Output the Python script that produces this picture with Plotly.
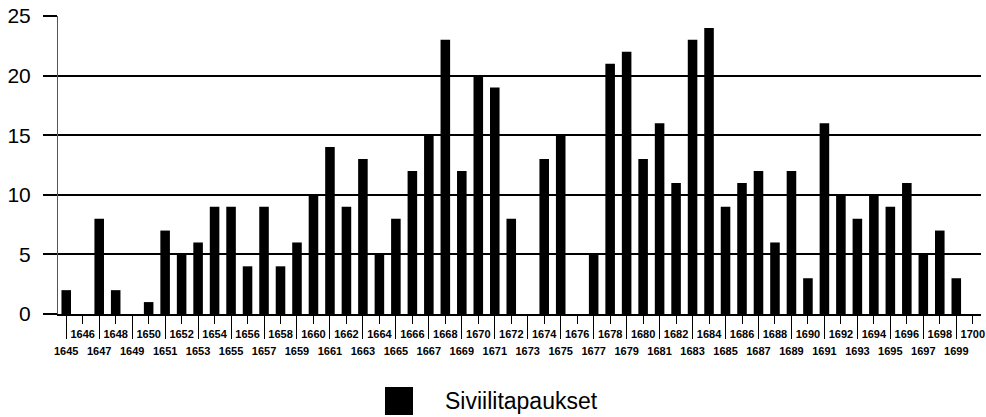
import plotly.graph_objects as go

years = list(range(1645, 1701))
cases = [2, 0, 8, 2, 0, 1, 7, 5, 6, 9,
         9, 4, 9, 4, 6, 10, 14, 9, 13, 5,
         8, 12, 15, 23, 12, 20, 19, 8, 0, 13,
         15, 0, 5, 21, 22, 13, 16, 11, 23, 24,
         9, 11, 12, 6, 12, 3, 16, 10, 8, 10,
         9, 11, 5, 7, 3, 0]
series_name = "Siviilitapaukset"
y_ticks = [0, 5, 10, 15, 20, 25]

odd_years = [y for y in years if y % 2 == 1]
even_years = [y for y in years if y % 2 == 0]

FONT = "Liberation Sans, Arial, sans-serif"

fig = go.Figure()
fig.add_trace(go.Bar(x=years, y=cases, marker=dict(color="black", line=dict(width=0)),
                     name=series_name, showlegend=False, xaxis="x", yaxis="y"))
# invisible trace to activate the overlay axis for even-year labels
fig.add_trace(go.Scatter(x=[years[0], years[-1]], y=[0, 0], mode="none",
                         showlegend=False, hoverinfo="skip", xaxis="x2", yaxis="y"))

xr = [years[0] - 0.5, years[-1] + 0.5]

fig.update_layout(
    width=986, height=417,
    margin=dict(l=58, r=5, t=16, b=103),
    paper_bgcolor="white", plot_bgcolor="white",
    bargap=0.42,
    font=dict(family=FONT, color="black"),
    xaxis=dict(
        range=xr, tickmode="array", tickvals=odd_years,
        ticktext=[str(y) for y in odd_years],
        ticks="outside", ticklen=23, tickwidth=1, tickcolor="black",
        showgrid=False, zeroline=False, automargin=False,
        showline=True, linecolor="black", linewidth=1.5,
        tickfont=dict(size=11, family=FONT, color="black", weight="bold"),
        ticklabelstandoff=3,
    ),
    xaxis2=dict(
        range=xr, overlaying="x", anchor="y", side="bottom",
        tickmode="array", tickvals=even_years,
        ticktext=[str(y) for y in even_years],
        ticks="outside", ticklen=9, tickwidth=1, tickcolor="black",
        showgrid=False, zeroline=False, showline=False, automargin=False,
        tickfont=dict(size=11, family=FONT, color="black", weight="bold"),
        ticklabelstandoff=1,
    ),
    yaxis=dict(
        range=[0, 25], tickmode="array", tickvals=y_ticks,
        ticks="outside", ticklen=14, tickwidth=1.5, tickcolor="black",
        showgrid=True, gridcolor="black", gridwidth=1.5, automargin=False,
        zeroline=False, showline=True, linecolor="#555", linewidth=1,
        tickfont=dict(size=21, family=FONT, color="black"),
        ticklabelstandoff=8,
    ),
    showlegend=False,
)

# legend drawn manually (large square swatch + label)
fig.add_shape(type="rect", xref="paper", yref="paper",
              x0=0.3543, x1=0.3846, y0=-0.245, y1=-0.339,
              fillcolor="black", line=dict(width=0))
fig.add_annotation(text=series_name, xref="paper", yref="paper",
                   x=0.4171, y=-0.292, xanchor="left", yanchor="middle",
                   showarrow=False, font=dict(size=23, family=FONT, color="black"))

fig.write_html("out.html", config={"displayModeBar": False},
               post_script="document.body.style.margin='0';document.body.style.overflow='hidden';")
